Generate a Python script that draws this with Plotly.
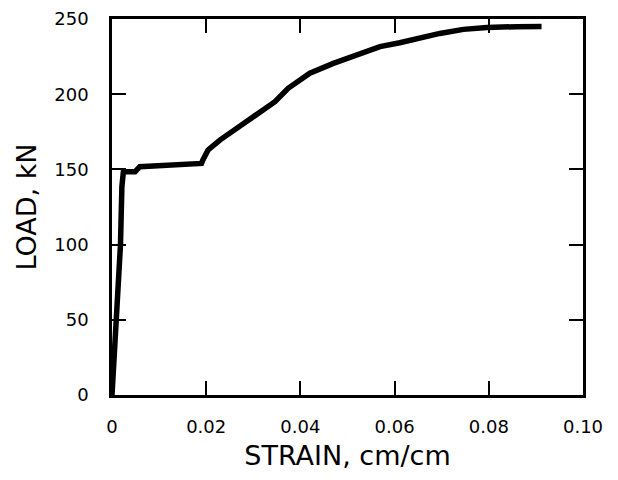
import plotly.graph_objects as go

strain = [0, 0.0010, 0.0018, 0.0021, 0.0024, 0.0031, 0.0049, 0.0059, 0.0190,
          0.0193, 0.0204, 0.0229, 0.0265, 0.0307, 0.0346, 0.0374, 0.0400,
          0.0420, 0.0470, 0.0520, 0.0569, 0.0611, 0.0640, 0.0696, 0.0746,
          0.0796, 0.0859, 0.0912]
load = [0, 50, 100, 138.5, 148, 148.5, 148.5, 151.8, 154,
        156.3, 162.9, 169.5, 177.3, 186.2, 195, 203.9, 209,
        213.9, 220.5, 226, 231.6, 234.2, 236.5, 240.4, 243.1,
        244.4, 244.9, 245]

x_tickvals = [0, 0.02, 0.04, 0.06, 0.08, 0.10]
x_ticktext = ["0", "0.02", "0.04", "0.06", "0.08", "0.10"]
y_tickvals = [0, 50, 100, 150, 200, 250]
y_ticktext = ["0", "50", "100", "150", "200", "250"]

FONT = "DejaVu Sans, Liberation Sans, Arial, sans-serif"

fig = go.Figure()
fig.add_trace(go.Scatter(x=strain, y=load, mode="lines",
                         line=dict(color="black", width=5.5),
                         showlegend=False, hoverinfo="skip"))

axis_common = dict(
    showgrid=False, zeroline=False, showline=True, linecolor="black",
    linewidth=2.5, mirror="ticks", ticks="inside", ticklen=14,
    tickwidth=1.5, tickcolor="black", automargin=False,
    tickfont=dict(family=FONT, size=18, color="black"),
)

fig.update_xaxes(range=[0, 0.1], tickvals=x_tickvals, ticktext=x_ticktext,
                 ticklabelstandoff=14,
                 title=dict(text="STRAIN, cm/cm", standoff=10,
                            font=dict(family=FONT, size=27, color="black")),
                 **axis_common)
fig.update_yaxes(range=[0, 250], tickvals=y_tickvals, ticktext=y_ticktext,
                 ticklabelstandoff=17,
                 title=dict(text="LOAD, kN", standoff=10,
                            font=dict(family=FONT, size=27, color="black")),
                 **axis_common)

fig.update_layout(
    width=618, height=480,
    margin=dict(l=104, r=43, t=11, b=93),
    paper_bgcolor="white", plot_bgcolor="white",
    font=dict(family=FONT, color="black"),
)

fig.write_html("out.html")
